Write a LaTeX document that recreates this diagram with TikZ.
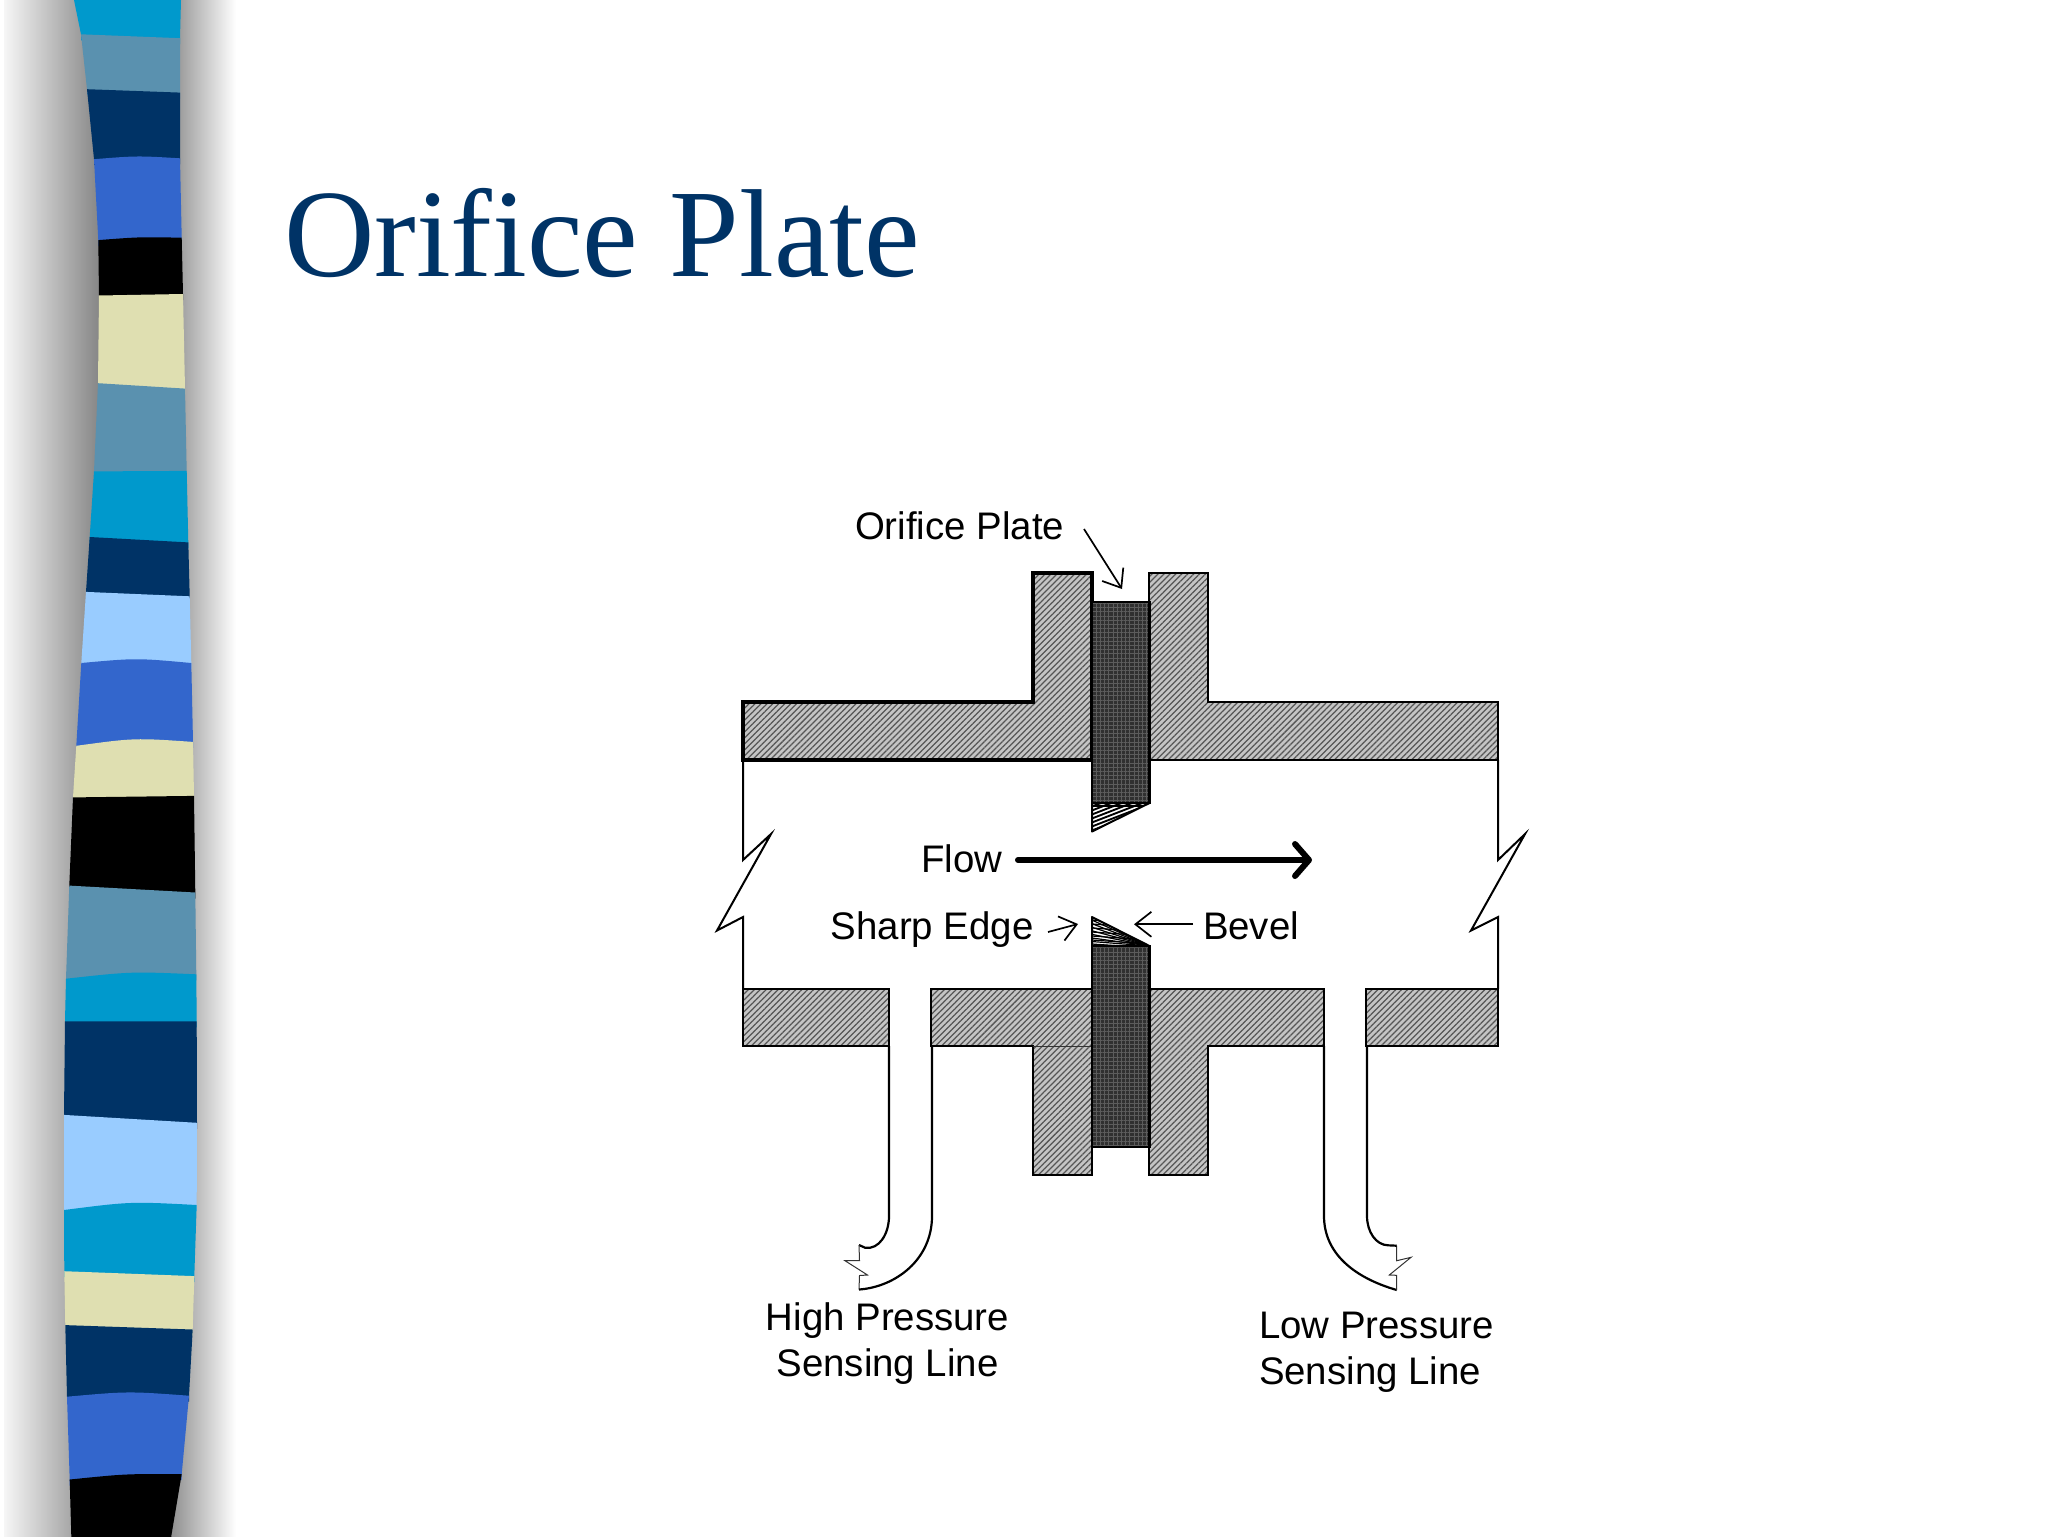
\documentclass[tikz,border=0pt]{standalone}
\usepackage{fontspec}
\setmainfont{Liberation Sans}
\newfontfamily\titlefont{Liberation Serif}
\usetikzlibrary{arrows.meta,patterns.meta,calc}
\definecolor{cCyan}{HTML}{0099CC}
\definecolor{cSlate}{HTML}{5A91AF}
\definecolor{cNavy}{HTML}{003366}
\definecolor{cRoyal}{HTML}{3366CC}
\definecolor{cBlack}{HTML}{000000}
\definecolor{cBeige}{HTML}{DFDFB1}
\definecolor{cLight}{HTML}{99CCFF}
\definecolor{cShade}{HTML}{858585}
\definecolor{cFade}{HTML}{F6F6F6}
\definecolor{cWallBase}{HTML}{C4C4C4}
\definecolor{cWallLine}{HTML}{555555}
\definecolor{cPlateBase}{HTML}{303030}
\definecolor{cPlateLine}{HTML}{5C5C5C}
\tikzset{
  wallhatch/.style={pattern={Lines[angle=45,distance=2.1pt,line width=.62pt]},pattern color=cWallLine},
  platehatch/.style={pattern={Hatch[angle=0,distance=2.1pt,line width=.5pt]},pattern color=cPlateLine},
  wallfill/.style={fill=cWallBase},
  thinline/.style={draw=black,line width=1pt,line join=miter},
  thickline/.style={draw=black,line width=1.8pt,line join=miter},
  hairline/.style={draw=black!80,line width=.5pt,line join=miter},
  tubeline/.style={draw=black,line width=1.1pt},
  labeltext/.style={inner sep=0pt,outer sep=0pt,font=\fontsize{19.2}{22.85}\selectfont},
  callout/.style={draw=black,line width=.85pt,-{Straight Barb[length=8pt,width=12.5pt]}},
  flowarrow/.style={draw=black,line width=3pt,line cap=round,-{Straight Barb[length=7pt,width=16pt,round]}}
}
\newcommand{\wallshape}[2][thinline]{%
  \fill[wallfill] #2;
  \path[wallhatch] #2;
  \path[#1] #2;}
\begin{document}
\begin{tikzpicture}[x=.5pt,y=-.5pt]
\useasboundingbox (0,0) rectangle (2048,1536);
\fill[white] (0,0) rectangle (2048,1536);
% sidebar shadow
\shade[left color=cFade,right color=cShade] (4,0) rectangle (100,1536);
\shade[left color=cShade,right color=white] (165,0) rectangle (236,1536);
\fill[cShade] (100,0) rectangle (165,1536);
% sidebar stripes
\begin{scope}
\clip (0,0) rectangle (2048,1536);
\foreach \c/\lx/\ly/\rx/\ry/\b [
  remember=\lx as \plx (initially 74),
  remember=\ly as \ply (initially 0),
  remember=\rx as \prx (initially 181),
  remember=\ry as \pry (initially 0),
  remember=\b as \pb (initially 0)] in {
 cCyan/81/34.3/180/38.2/0,
 cSlate/87/89.2/180/92.6/0,
 cNavy/94/159.2/180/158.3/-3,
 cRoyal/98.3/240.1/181.7/237.7/-2,
 cBlack/99/295.5/183/294/0,
 cBeige/98/383.2/185/388.6/0,
 cSlate/94/471.4/186.7/470.9/0,
 cCyan/89.7/537/188.3/542.4/0,
 cNavy/86/591.9/189.7/596.3/0,
 cLight/81.3/663/191.3/663/-5,
 cRoyal/76.3/745.8/193/741.9/-6,
 cBeige/73/797.4/194/795.9/0,
 cBlack/69.3/885.6/195.3/892.5/0,
 cSlate/66/978.7/196.3/974.3/-5,
 cCyan/65/1021.3/196.7/1021.3/0,
 cNavy/64/1114.9/197/1122.8/0,
 cLight/64/1210/196.7/1205/-6,
 cCyan/64.3/1271.2/194.3/1276.1/0,
 cBeige/65.3/1325.1/192.7/1329.5/0,
 cNavy/67/1396.7/189/1395.7/-5,
 cRoyal/69.7/1479.5/181.7/1474.1/-3,
 cBlack/71.3/1536/171.3/1536/0}{
  \fill[\c] (\plx,\ply) .. controls ({(\plx+\prx)/2},{(\ply+\pry)/2+\pb}) .. (\prx,\pry) -- (\rx,\ry) -- (\rx,\ry+6) -- (\lx,\ly+6) -- (\lx,\ly) -- cycle;
}
\end{scope}
% title
\node[inner sep=0pt,outer sep=0pt,anchor=base west,text=cNavy,font=\titlefont\fontsize{62.6}{70}\selectfont] (title) at (284,276) {Orifice Plate};

% pipe walls and flanges
\wallshape[thickline]{(743,702) -- (1033,702) -- (1033,573) -- (1092,573) -- (1092,760) -- (743,760) -- cycle}
\wallshape{(1149,573) -- (1208,573) -- (1208,702) -- (1498,702) -- (1498,760) -- (1149,760) -- cycle}
\wallshape{(743,989) -- (889,989) -- (889,1046) -- (743,1046) -- cycle}
\wallshape{(931,989) -- (1092,989) -- (1092,1175) -- (1033,1175) -- (1033,1046) -- (931,1046) -- cycle}
\wallshape{(1149,989) -- (1324,989) -- (1324,1046) -- (1208,1046) -- (1208,1175) -- (1149,1175) -- cycle}
\wallshape{(1366,989) -- (1498,989) -- (1498,1046) -- (1366,1046) -- cycle}
\draw[hairline] (1033,1046) -- (1092,1046);

% orifice plate, upper and lower
\fill[cPlateBase] (1092,602) rectangle (1149.5,803);
\path[platehatch] (1092,602) rectangle (1149.5,803);
\draw[thinline,line width=1.3pt] (1092,602) rectangle (1149.5,803);
\fill[cPlateBase] (1092,946) rectangle (1149.5,1147);
\path[platehatch] (1092,946) rectangle (1149.5,1147);
\draw[thinline,line width=1.3pt] (1092,946) rectangle (1149.5,1147);
% upper bevel
\begin{scope}
\clip (1092,803) -- (1149.5,803) -- (1092,831.5) -- cycle;
\foreach \k in {0,1,...,8}{
  \draw[black,line width=.95pt] (1088,{804+4*\k}) -- (1150,{780+4*\k});
}
\draw[black,line width=1pt] (1092,806) -- (1150,806);
\end{scope}
\draw[thinline,line join=round] (1092,803) -- (1149.5,803) -- (1092,831.5) -- cycle;
% lower bevel
\begin{scope}
\clip (1092,917) -- (1149.5,946) -- (1092,946) -- cycle;
\foreach \k in {0,1,...,7}{
  \draw[black,line width=.6pt] (1150,946) -- (1085,{917+4*\k});
  \draw[black,line width=.6pt] (1092,{920+4*\k}) -- (1150,{924+4*\k});
}
\end{scope}
\draw[thinline,line join=round] (1092,917) -- (1149.5,946) -- (1092,946) -- cycle;

% open pipe edges with break marks
\draw[thinline] (743,760) -- (743,860) -- (771,834) -- (717,930.5) -- (743,917) -- (743,989);
\draw[thinline] (1498,760) -- (1498,860) -- (1525,834) -- (1471,930.5) -- (1498,917) -- (1498,989);

% high pressure sensing line
\path[tubeline] (889,1046) -- (889,1216) .. controls (889,1234) and (879,1250) .. (865,1247.7) -- (859,1245);
\draw[hairline] (859,1245) -- (859.5,1260.5) -- (845,1260.7) -- (867.5,1275) -- (859.5,1275.5) -- (859,1289.5);
\path[tubeline] (859,1289.5) .. controls (895,1287) and (932,1260) .. (932,1216) -- (932,1046);
% low pressure sensing line
\path[tubeline] (1324,1046) -- (1324,1216) .. controls (1324,1252) and (1352,1277) .. (1396.7,1290);
\draw[hairline] (1396.7,1245.7) -- (1396.7,1260.7) -- (1411,1257.3) -- (1389.3,1275) -- (1396.7,1275.3) -- (1396.7,1290);
\path[tubeline] (1367,1046) -- (1367,1216) .. controls (1367,1232) and (1376,1245) .. (1388,1245.3) -- (1396.7,1245.7);

% labels
\node[labeltext,anchor=base west] (lblplate) at (855,539) {Orifice Plate};
\node[labeltext,anchor=base west] (lblflow) at (921,872) {Flow};
\node[labeltext,anchor=base west] (lblsharp) at (830.7,939) {Sharp Edge};
\node[labeltext,anchor=base west] (lblbevel) at (1203,939) {Bevel};
\node[labeltext,anchor=north,align=center] (lblhigh) at (887.5,1303) {High Pressure\\Sensing Line};
\node[labeltext,anchor=north west,align=left] (lbllow) at (1259,1312) {Low Pressure\\Sensing Line};

% callouts
\coordinate (platefrom) at (1084,529);
\coordinate (plateto) at (1122,589);
\coordinate (flowfrom) at (1018,860);
\coordinate (flowto) at (1312,860);
\coordinate (sharpfrom) at (1048,932);
\coordinate (sharpto) at (1078,924);
\coordinate (bevelfrom) at (1193,924.3);
\coordinate (bevelto) at (1134,924.3);
\draw[callout] (platefrom) -- (plateto);
\draw[flowarrow] (flowfrom) -- (flowto);
\draw[callout] (sharpfrom) -- (sharpto);
\draw[callout] (bevelfrom) -- (bevelto);
\end{tikzpicture}
\end{document}
